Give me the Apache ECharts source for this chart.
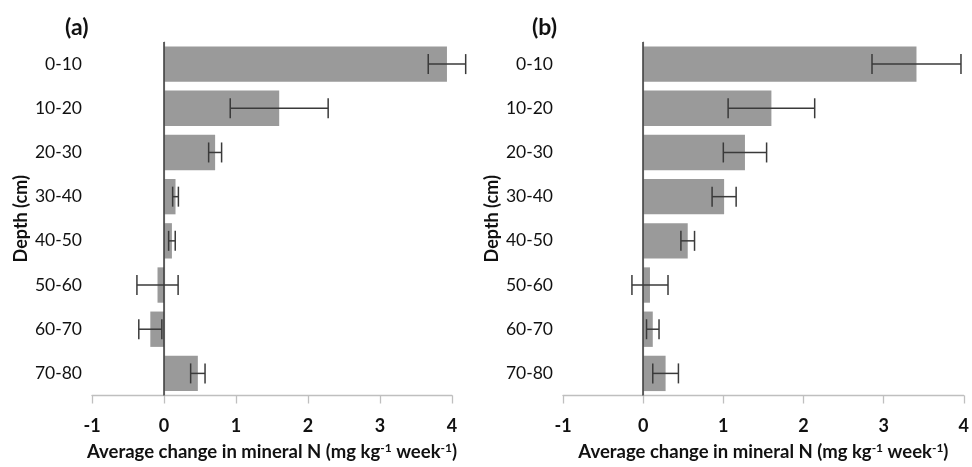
<!DOCTYPE html>
<html><head><meta charset="utf-8">
<script src="https://cdn.jsdelivr.net/npm/echarts@6/dist/echarts.min.js"></script>
<style>html,body{margin:0;padding:0;background:#fff}#c{width:972px;height:467px}</style>
</head><body><div id="c"></div>
<script>
var categories = ['0-10','10-20','20-30','30-40','40-50','50-60','60-70','70-80'];
var aMean = [3.93, 1.60, 0.71, 0.16, 0.11, -0.09, -0.19, 0.47];
var aErr  = [0.26, 0.68, 0.09, 0.04, 0.046, 0.286, 0.16, 0.10];
var bMean = [3.41, 1.60, 1.27, 1.01, 0.556, 0.085, 0.12, 0.28];
var bErr  = [0.555, 0.54, 0.27, 0.15, 0.085, 0.225, 0.078, 0.16];
var xTicks = [-1, 0, 1, 2, 3, 4];

var FONT = 'Lato';
function errData(mean, err){ return mean.map(function(m,i){ return [i, m-err[i], m+err[i]]; }); }
function renderErr(params, api){
  var cat = api.value(0), lo = api.value(1), hi = api.value(2);
  var p1 = api.coord([lo, cat]), p2 = api.coord([hi, cat]);
  var h = 10;
  var st = {stroke:'#3a3a3a', lineWidth:1.5};
  return {type:'group', children:[
    {type:'line', shape:{x1:p1[0],y1:p1[1],x2:p2[0],y2:p2[1]}, style:st},
    {type:'line', shape:{x1:p1[0],y1:p1[1]-h,x2:p1[0],y2:p1[1]+h}, style:st},
    {type:'line', shape:{x1:p2[0],y1:p2[1]-h,x2:p2[0],y2:p2[1]+h}, style:st}
  ]};
}
function xAxisCfg(gi){
  return {
    type:'value', gridIndex:gi, min:xTicks[0], max:xTicks[xTicks.length-1], interval:1,
    axisLine:{show:true, onZero:false, lineStyle:{color:'#bfbfbf', width:1.3}},
    axisTick:{show:true, length:8, lineStyle:{color:'#bfbfbf', width:1.3}},
    splitLine:{show:false},
    axisLabel:{fontFamily:FONT, fontSize:18, fontWeight:'bold', color:'#111', margin:22},
    name:'Average change in mineral N (mg kg{sup|-1} week{sup|-1})',
    nameLocation:'middle', nameGap:47,
    nameTextStyle:{fontFamily:FONT, fontSize:18.5, fontWeight:'bold', color:'#111',
      rich:{sup:{fontFamily:FONT, fontSize:12, fontWeight:'bold', color:'#111', verticalAlign:'top', padding:[0,0,8,0]}}}
  };
}
function yAxisCfg(gi){
  return {
    type:'category', gridIndex:gi, data:categories, inverse:true,
    axisLine:{show:true, lineStyle:{color:'#bfbfbf', width:1.3}},
    axisTick:{show:false},
    axisLabel:{fontFamily:FONT, fontSize:17.5, color:'#111', margin:10},
    name:'Depth (cm)', nameLocation:'middle', nameGap:62, nameRotate:90,
    nameTextStyle:{fontFamily:FONT, fontSize:18, fontWeight:'bold', color:'#111'}
  };
}
function barSeries(gi, data){
  return {
    type:'bar', xAxisIndex:gi, yAxisIndex:gi, data:data, barCategoryGap:'20%',
    itemStyle:{color:'#9a9a9a'}, silent:true, z:2,
    markLine:{silent:true, symbol:'none', label:{show:false}, animation:false,
      lineStyle:{color:'#3a3a3a', width:1.5, type:'solid'}, data:[{xAxis:0}]}
  };
}
var chart = echarts.init(document.getElementById('c'));
chart.setOption({
  animation:false,
  title:[
    {text:'(a)', left:60, top:11, textStyle:{fontFamily:FONT, fontSize:23, fontWeight:'bold', color:'#111'}},
    {text:'(b)', left:527, top:11, textStyle:{fontFamily:FONT, fontSize:23, fontWeight:'bold', color:'#111'}}
  ],
  grid:[
    {left:92, width:360, top:42, height:361},
    {left:563, width:405, top:42, height:361}
  ],
  xAxis:[xAxisCfg(0), xAxisCfg(1)],
  yAxis:[yAxisCfg(0), yAxisCfg(1)],
  series:[
    barSeries(0, aMean),
    {type:'custom', xAxisIndex:0, yAxisIndex:0, data:errData(aMean,aErr), renderItem:renderErr, z:5, silent:true},
    barSeries(1, bMean),
    {type:'custom', xAxisIndex:1, yAxisIndex:1, data:errData(bMean,bErr), renderItem:renderErr, z:5, silent:true}
  ]
});
</script></body></html>
